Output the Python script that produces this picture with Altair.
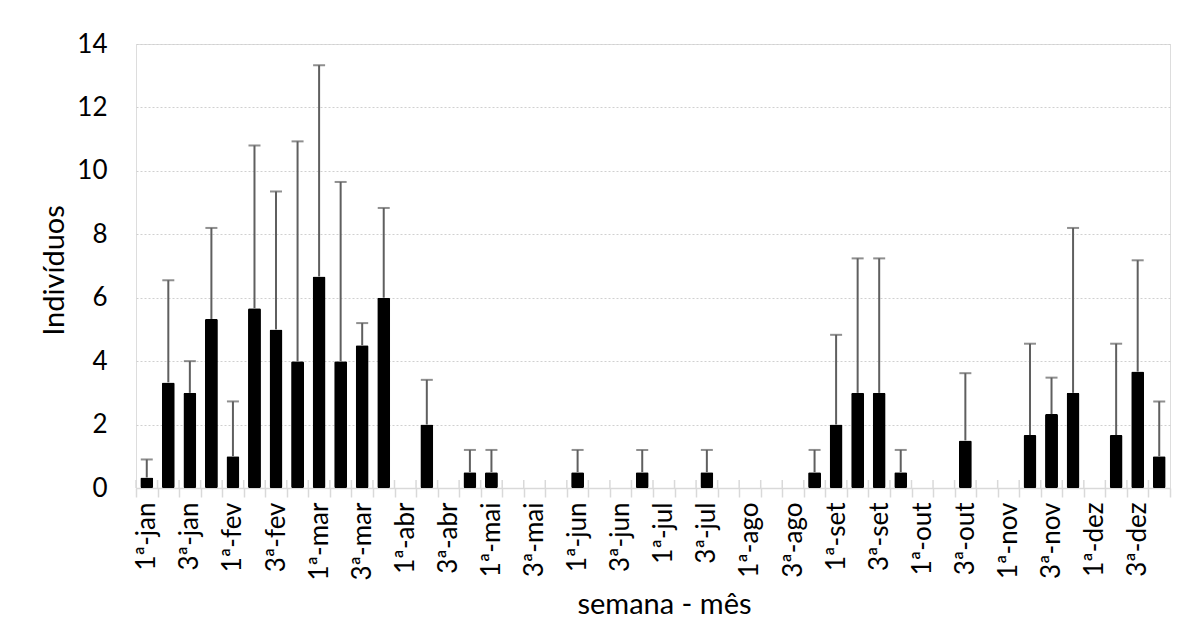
import altair as alt
import pandas as pd

months = ["jan", "fev", "mar", "abr", "mai", "jun", "jul", "ago", "set", "out", "nov", "dez"]
weeks = [f"{w}ª-{m}" for m in months for w in (1, 2, 3, 4)]

values = [0.33, 3.33, 3.0, 5.33, 1.0, 5.67, 5.0, 4.0, 6.67, 4.0, 4.5, 6.0,
          0, 2.0, 0, 0.5, 0.5, 0, 0, 0, 0.5, 0, 0, 0.5,
          0, 0, 0.5, 0, 0, 0, 0, 0.5, 2.0, 3.0, 3.0, 0.5,
          0, 0, 1.5, 0, 0, 1.67, 2.33, 3.0, 0, 1.67, 3.67, 1.0]
upper = [0.9, 6.55, 4.0, 8.2, 2.73, 10.8, 9.35, 10.93, 13.33, 9.65, 5.2, 8.83,
         0, 3.41, 0, 1.2, 1.2, 0, 0, 0, 1.2, 0, 0, 1.2,
         0, 0, 1.2, 0, 0, 0, 0, 1.2, 4.83, 7.24, 7.24, 1.2,
         0, 0, 3.62, 0, 0, 4.55, 3.48, 8.2, 0, 4.55, 7.18, 2.73]
y_ticks = [0, 2, 4, 6, 8, 10, 12, 14]

df = pd.DataFrame({"semana": weeks, "valor": values, "sup": upper})

FONT = "Lato"

x_enc = alt.X(
    "semana:N",
    sort=weeks,
    scale=alt.Scale(paddingInner=0, paddingOuter=0),
    axis=alt.Axis(
        title="semana - mês",
        labelAngle=-90,
        labelFontSize=26,
        labelColor="#000000",
        labelFont=FONT,
        labelPadding=5,
        labelExpr="(indexof(datum.label, '1ª') == 0 || indexof(datum.label, '3ª') == 0) ? datum.label : ''",
        labelOverlap=False,
        tickBand="extent",
        tickSize=9,
        tickWidth=1.5,
        tickColor="#d9d9d9",
        domainColor="#d9d9d9",
        domainWidth=1.5,
        titleFontSize=29,
        titleFont=FONT,
        titleFontWeight="normal",
        titleColor="#000000",
        titleX=528,
        titleY=125,
        titleBaseline="alphabetic",
    ),
)

y_enc = alt.Y(
    "valor:Q",
    scale=alt.Scale(domain=[0, 14], nice=False),
    axis=alt.Axis(
        title="Indivíduos",
        values=y_ticks,
        labelFontSize=26,
        labelFont=FONT,
        labelColor="#000000",
        labelPadding=29,
        ticks=False,
        domain=False,
        grid=True,
        gridColor="#d0d0d0",
        gridDash=[2, 2],
        gridWidth=1,
        titleFontSize=29,
        titleFont=FONT,
        titleFontWeight="normal",
        titleColor="#000000",
        titleX=-73,
        titleY=226,
        titleBaseline="alphabetic",
    ),
)

base = alt.Chart(df)

bars = base.mark_bar(color="#000000", width=alt.RelativeBandSize(0.6), cornerRadius=1.5).encode(
    x=x_enc, y=y_enc
)

up_ticks = base.mark_rule(color="#d9d9d9", strokeWidth=1.5).encode(
    x=alt.X("semana:N", sort=weeks, bandPosition=0),
    y=alt.value(436),
    y2=alt.value(444),
)

err = base.transform_filter("datum.sup > 0").mark_rule(color="#5f5f5f", strokeWidth=2).encode(
    x=alt.X("semana:N", sort=weeks),
    y="valor:Q",
    y2="sup:Q",
)

caps = base.transform_filter("datum.sup > 0").mark_tick(
    color="#5f5f5f", size=12, thickness=2, orient="horizontal"
).encode(
    x=alt.X("semana:N", sort=weeks),
    y="sup:Q",
)

chart = (
    alt.layer(up_ticks, bars, err, caps)
    .properties(
        width=1034,
        height=444,
        autosize=alt.AutoSizeParams(type="none"),
        padding={"left": 128, "top": 36, "right": 20, "bottom": 140},
    )
    .configure_view(stroke="#c4c4c4", strokeWidth=1.5)
    .configure(background="#ffffff")
)

chart.save("out.html", embed_options={"renderer": "svg", "actions": False})
